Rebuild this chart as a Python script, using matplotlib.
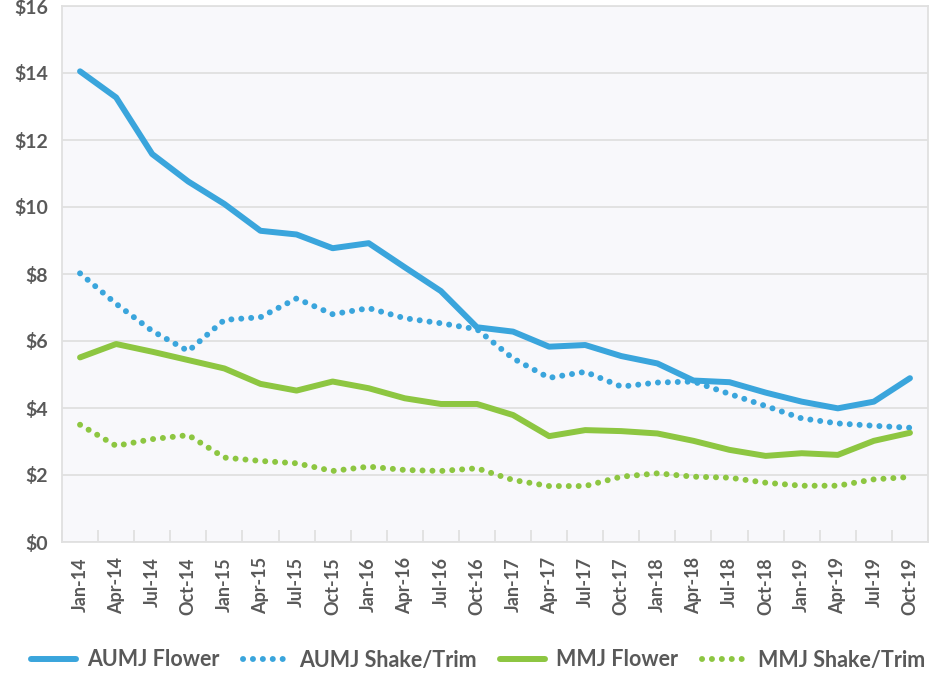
import matplotlib
matplotlib.use("Agg")
import matplotlib.pyplot as plt
from matplotlib.ticker import FixedLocator, FuncFormatter

plt.rcParams['font.family'] = ['Lato', 'DejaVu Sans']

quarters = ["Jan-14", "Apr-14", "Jul-14", "Oct-14", "Jan-15", "Apr-15", "Jul-15", "Oct-15",
            "Jan-16", "Apr-16", "Jul-16", "Oct-16", "Jan-17", "Apr-17", "Jul-17", "Oct-17",
            "Jan-18", "Apr-18", "Jul-18", "Oct-18", "Jan-19", "Apr-19", "Jul-19", "Oct-19"]

aumj_flower = [14.05, 13.27, 11.58, 10.76, 10.09, 9.29, 9.18, 8.77, 8.92, 8.20, 7.49, 6.41,
               6.28, 5.83, 5.88, 5.55, 5.33, 4.82, 4.77, 4.46, 4.19, 3.99, 4.19, 4.89]
aumj_shake = [8.02, 7.11, 6.30, 5.70, 6.63, 6.71, 7.27, 6.80, 6.98, 6.68, 6.53, 6.35,
              5.48, 4.90, 5.08, 4.64, 4.76, 4.79, 4.42, 4.06, 3.69, 3.54, 3.47, 3.41]
mmj_flower = [5.51, 5.91, 5.68, 5.43, 5.18, 4.72, 4.52, 4.79, 4.59, 4.29, 4.12, 4.12,
              3.79, 3.16, 3.34, 3.31, 3.24, 3.02, 2.75, 2.57, 2.65, 2.60, 3.02, 3.26]
mmj_shake = [3.50, 2.87, 3.07, 3.19, 2.52, 2.42, 2.35, 2.12, 2.25, 2.15, 2.12, 2.20,
             1.85, 1.67, 1.67, 1.95, 2.05, 1.95, 1.92, 1.77, 1.68, 1.68, 1.87, 1.94]

BLUE = "#3AA5DC"
GREEN = "#8DC641"
TXT = "#595959"
GRID = "#E0E0E0"

fig = plt.figure(figsize=(9.32, 6.74), dpi=100)
ax = fig.add_axes([62/932, (674-542)/674, (928-62)/932, (542-6)/674])
ax.set_facecolor("#F8F8FB")

x = list(range(len(quarters)))
lw = 4.3
dot = (0, (0.01, 1.65))
ax.plot(x, aumj_flower, color=BLUE, lw=lw, solid_capstyle='round', solid_joinstyle='round',
        label="AUMJ Flower", zorder=3)
ax.plot(x, aumj_shake, color=BLUE, lw=lw, linestyle=dot, dash_capstyle='round',
        label="AUMJ Shake/Trim", zorder=3)
ax.plot(x, mmj_flower, color=GREEN, lw=lw, solid_capstyle='round', solid_joinstyle='round',
        label="MMJ Flower", zorder=3)
ax.plot(x, mmj_shake, color=GREEN, lw=lw, linestyle=dot, dash_capstyle='round',
        label="MMJ Shake/Trim", zorder=3)

ax.set_xlim(-0.5, len(quarters) - 0.5)
ax.set_ylim(0, 16)
ax.set_yticks(range(0, 17, 2))
ax.yaxis.set_major_formatter(FuncFormatter(lambda v, p: f"${int(v)}"))
ax.grid(axis='y', color=GRID, lw=1.3, zorder=1)
ax.set_axisbelow(True)

ax.set_xticks(x)
ax.set_xticklabels(quarters, rotation=90, fontsize=13, fontweight='bold', color=TXT)
ax.xaxis.set_minor_locator(FixedLocator([i - 0.5 for i in range(len(quarters) + 1)]))
ax.tick_params(axis='x', which='major', length=0, pad=11)
ax.tick_params(axis='x', which='minor', direction='in', length=9, width=1.3, color=GRID)
ax.tick_params(axis='y', length=0, pad=10, labelsize=14, labelcolor=TXT)
for lab in ax.get_yticklabels():
    lab.set_fontweight('bold')

for s in ax.spines.values():
    s.set_color(GRID)
    s.set_linewidth(1.3)

leg = fig.legend(loc='center', bbox_to_anchor=(478/932, 1 - 660/674), ncol=4, frameon=False,
                 prop={'weight': 'bold', 'size': 15.5}, handlelength=2.1, columnspacing=1.1,
                 handletextpad=0.5, labelcolor=TXT)

fig.savefig("out.png", dpi=100, facecolor="white")
